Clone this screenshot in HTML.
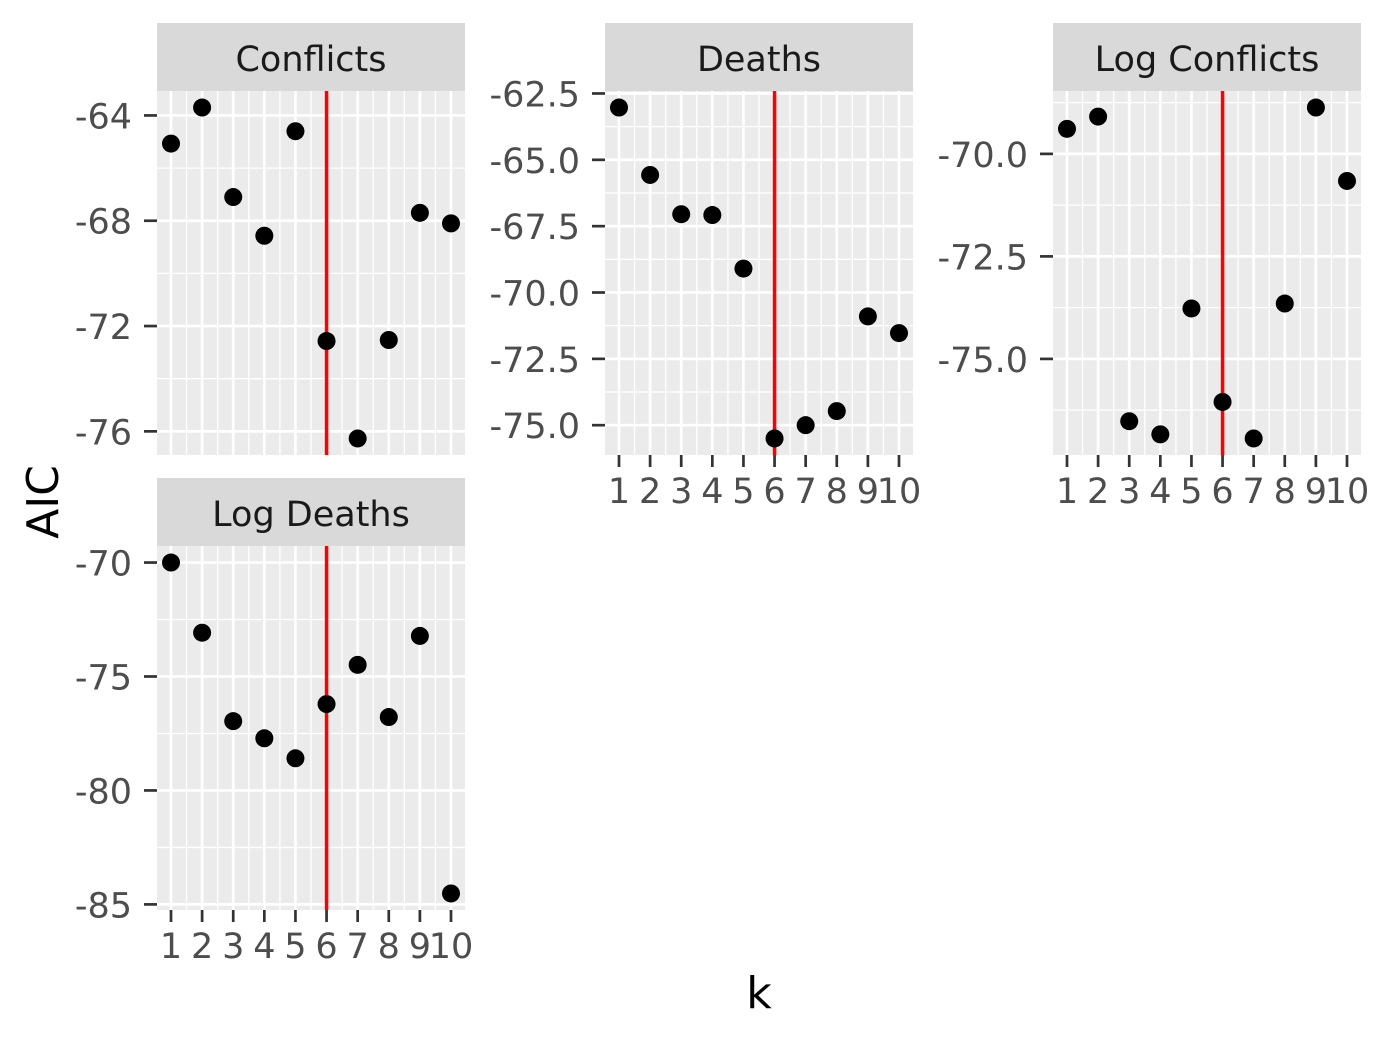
<!DOCTYPE html>
<html><head><meta charset="utf-8"><style>
html,body{margin:0;padding:0;background:#fff;}
svg{display:block;font-family:"DejaVu Sans","Liberation Sans",sans-serif;}
</style></head><body>
<svg id="chart" width="1385" height="1040" viewBox="0 0 1385 1040" xmlns="http://www.w3.org/2000/svg">
<text x="0" y="0" transform="translate(58,502) rotate(-90)" text-anchor="middle" font-size="44" fill="#000">AIC</text>
<text x="759" y="1008" text-anchor="middle" font-size="44" fill="#000">k</text>
</svg>
<script>
const kValues = [1,2,3,4,5,6,7,8,9,10];
const panelTitles = ["Conflicts","Deaths","Log Conflicts","Log Deaths"];
const conflictsAIC = [-65.07,-63.7,-67.1,-68.57,-64.6,-72.57,-76.27,-72.53,-67.7,-68.1];
const deathsAIC = [-63.03,-65.57,-67.05,-67.08,-69.1,-75.5,-75.0,-74.47,-70.9,-71.53];
const logConflictsAIC = [-69.39,-69.09,-76.52,-76.84,-73.77,-76.05,-76.94,-73.65,-68.87,-70.66];
const logDeathsAIC = [-70,-73.08,-76.96,-77.71,-78.59,-76.21,-74.49,-76.78,-73.22,-84.52];
const conflictsTicks = [-64,-68,-72,-76];
const deathsTicks = [-62.5,-65,-67.5,-70,-72.5,-75];
const logConflictsTicks = [-70,-72.5,-75];
const logDeathsTicks = [-70,-75,-80,-85];
const selectedK = 6;

const NS="http://www.w3.org/2000/svg";
const svg=document.getElementById('chart');
function mk(tag,attrs,parent){const e=document.createElementNS(NS,tag);for(const k in attrs)e.setAttribute(k,attrs[k]);(parent||svg).appendChild(e);return e;}

const panels=[
 {name:'conflicts',vals:conflictsAIC,ticks:conflictsTicks,dec:0,x:157,y:23,xlab:false},
 {name:'deaths',vals:deathsAIC,ticks:deathsTicks,dec:1,x:605,y:23,xlab:true},
 {name:'log-conflicts',vals:logConflictsAIC,ticks:logConflictsTicks,dec:1,x:1053,y:23,xlab:true},
 {name:'log-deaths',vals:logDeathsAIC,ticks:logDeathsTicks,dec:0,x:157,y:478,xlab:true}
];
const W=308, SH=68, PH=364, FS=35;
panels.forEach((p,i)=>{
  const g=mk('g',{});
  
  
  const top=p.y+SH;
  const kmin=Math.min(...kValues),kmax=Math.max(...kValues);
  const xe=(kmax-kmin)*0.05;
  const xs=k=>p.x+(k-(kmin-xe))/((kmax-kmin)+2*xe)*W;
  const vmin=Math.min(...p.vals),vmax=Math.max(...p.vals);
  const ye=(vmax-vmin)*0.05;
  const lo=vmin-ye,hi=vmax+ye;
  const ys=v=>top+(hi-v)/(hi-lo)*PH;
  const bg=mk('rect',{x:p.x,y:top,width:W,height:PH,fill:'#EBEBEB'},g);
  
  
  const step=p.ticks[0]-p.ticks[1];
  for(let t=p.ticks[0]+step*1.5;t>=lo-step;t-=step){
    if(t<=hi&&t>=lo) mk('line',{x1:p.x,x2:p.x+W,y1:ys(t),y2:ys(t),stroke:'#fff','stroke-width':1.3},g);
  }
  for(let k=kmin-0.5;k<=kmax+0.5;k+=1){
    const xx=xs(k); if(xx>=p.x&&xx<=p.x+W) mk('line',{x1:xx,x2:xx,y1:top,y2:top+PH,stroke:'#fff','stroke-width':1.3},g);
  }
  p.ticks.forEach(t=>{
    mk('line',{x1:p.x,x2:p.x+W,y1:ys(t),y2:ys(t),stroke:'#fff','stroke-width':2.7},g);
    mk('line',{x1:p.x-13,x2:p.x,y1:ys(t),y2:ys(t),stroke:'#333','stroke-width':2.7},g);
    const tx=mk('text',{x:p.x-25,y:ys(t)+13,'text-anchor':'end','font-size':FS,fill:'#4D4D4D'},g);
    
    
    tx.textContent=(t<0?'-':'')+Math.abs(t).toFixed(p.dec);
  });
  kValues.forEach(k=>{
    mk('line',{x1:xs(k),x2:xs(k),y1:top,y2:top+PH,stroke:'#fff','stroke-width':2.7},g);
    if(p.xlab){
      mk('line',{x1:xs(k),x2:xs(k),y1:top+PH,y2:top+PH+12,stroke:'#333','stroke-width':2.7},g);
      const tx=mk('text',{x:xs(k),y:top+PH+48,'text-anchor':'middle','font-size':FS,fill:'#4D4D4D'},g);
      
      
      tx.textContent=k;
    }
  });
  const vl=mk('line',{x1:xs(selectedK),x2:xs(selectedK),y1:top,y2:top+PH,stroke:'#FF0000','stroke-width':3.5},g);
  
  
  p.vals.forEach((v,j)=>{
    const c=mk('circle',{cx:xs(kValues[j]),cy:ys(v),r:9,fill:'#000'},g);
    
    
  });
  const st=mk('rect',{x:p.x,y:p.y,width:W,height:SH,fill:'#D9D9D9'},g);
  
  
  const stt=mk('text',{x:p.x+W/2,y:p.y+48,'text-anchor':'middle','font-size':FS,fill:'#1A1A1A'},g);
  
  
  stt.textContent=panelTitles[i];
});
</script>
</body></html>
